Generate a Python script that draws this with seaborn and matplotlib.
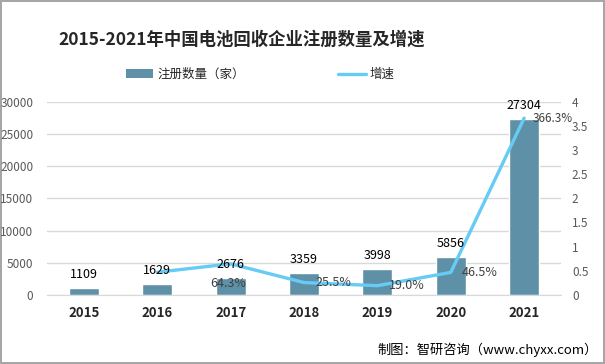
import numpy as np
import pandas as pd
import matplotlib
matplotlib.use("Agg")
import matplotlib.pyplot as plt
import seaborn as sns
from matplotlib.lines import Line2D
from matplotlib.patches import Patch

sns.set_style("white")
plt.rcParams['font.family'] = ['Noto Sans CJK SC', 'DejaVu Sans']

years = ["2015", "2016", "2017", "2018", "2019", "2020", "2021"]
counts = [1109, 1629, 2676, 3359, 3998, 5856, 27304]
growth = [np.nan, 0.469, 0.643, 0.255, 0.190, 0.465, 3.663]
growth_labels = ["", "", "64.3%", "25.5%", "19.0%", "46.5%", "366.3%"]

bar_color = "#5E91A8"
line_color = "#66CCF5"
tick_color = "#595959"

df = pd.DataFrame({"year": years, "count": counts, "growth": growth})
df["pos"] = np.arange(len(df))

fig = plt.figure(figsize=(6.05, 3.64), dpi=100, edgecolor="#A6A6A6", linewidth=1.5)
ax = fig.add_axes([0.078, 0.19, 0.849, 0.53])

sns.barplot(data=df, x="year", y="count", color=bar_color, width=0.41,
            saturation=1, ax=ax, zorder=2)
ax.set_ylim(0, 30000)
ax.set_yticks(np.arange(0, 30001, 5000))
ax.yaxis.grid(True, color="#D9D9D9", linewidth=1, zorder=0)
ax.set_axisbelow(True)
ax.set_xlim(-0.5, len(years) - 0.5)
ax.set_xlabel("")
ax.set_ylabel("")
ax.tick_params(axis="y", colors=tick_color, labelsize=8.5, length=0, pad=10)
ax.tick_params(axis="x", length=0, pad=8)
for lbl in ax.get_xticklabels():
    lbl.set_fontweight("bold")
    lbl.set_fontsize(9.5)
    lbl.set_color("#262626")
for s in ["top", "right", "left"]:
    ax.spines[s].set_visible(False)
ax.spines["bottom"].set_color("#D9D9D9")

ax2 = ax.twinx()
sub = df.dropna(subset=["growth"])
sns.lineplot(data=sub, x="pos", y="growth", color=line_color, linewidth=2.4,
             ax=ax2, zorder=3)
ax2.set_ylim(0, 4)
ax2.set_yticks(np.arange(0, 4.01, 0.5))
ax2.set_yticklabels(["0", "0.5", "1", "1.5", "2", "2.5", "3", "3.5", "4"])
ax2.set_xlim(-0.5, len(years) - 0.5)
ax2.set_ylabel("")
ax2.set_xlabel("")
ax2.tick_params(axis="y", colors=tick_color, labelsize=8.5, length=0, pad=8)
for s in ["top", "right", "left", "bottom"]:
    ax2.spines[s].set_visible(False)

# bar value labels drawn on the top axes so they sit over the line
for x, v in zip(df["pos"], df["count"]):
    ax2.annotate(str(v), (x, v), xycoords=ax.transData, xytext=(0, 5),
                 textcoords="offset points", ha="center", va="bottom",
                 fontsize=9, color="#000000", zorder=5)

for x, g, t in zip(df["pos"], df["growth"], growth_labels):
    if not t:
        continue
    if t == "64.3%":
        ax2.annotate(t, (x, g), xytext=(-2, -14), textcoords="offset points",
                     ha="center", va="center", fontsize=9, color="#404040")
    elif t == "366.3%":
        ax2.annotate(t, (x, g), xytext=(6, 0), textcoords="offset points",
                     ha="left", va="center", fontsize=8.5, color="#404040")
    else:
        ax2.annotate(t, (x, g), xytext=(8, 0), textcoords="offset points",
                     ha="left", va="center", fontsize=9, color="#404040")

fig.text(0.40, 0.89, "2015-2021年中国电池回收企业注册数量及增速", ha="center",
         va="center", fontsize=12.5, fontweight="bold", color="#262626")

handles = [Patch(facecolor=bar_color, edgecolor="none"),
           Line2D([0], [0], color=line_color, linewidth=2.4)]
fig.legend(handles, ["注册数量（家）", "增速"], loc="center",
           bbox_to_anchor=(0.43, 0.795), ncol=2, frameon=False, fontsize=9,
           columnspacing=7.5, handlelength=2.2, handletextpad=0.3)

fig.text(0.988, 0.038, "制图：智研咨询（www.chyxx.com）", ha="right", va="center",
         fontsize=9.5, color="#000000")

fig.savefig("out.png", dpi=100, edgecolor=fig.get_edgecolor())
